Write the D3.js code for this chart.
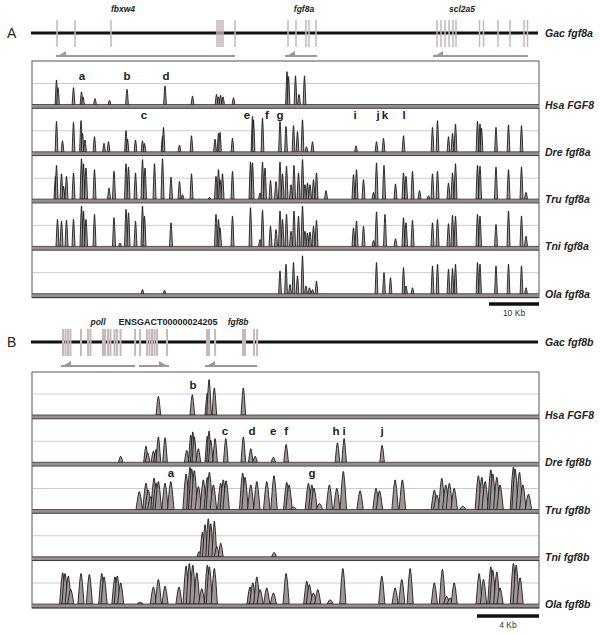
<!DOCTYPE html>
<html><head><meta charset="utf-8">
<script src="https://cdn.jsdelivr.net/npm/d3@7"></script>
<style>body{margin:0;background:#fff}</style>
</head><body><svg id="c" width="600" height="634"></svg>
<script>
// ---------------- DATA ----------------
// Panel A (positions in kb along Gac fgf8a region; heights in % identity)
const refA = "Gac fgf8a";
const tracksA = ["Hsa FGF8","Dre fgf8a","Tru fgf8a","Tni fgf8a","Ola fgf8a"];
const exonsA = [5.0,8.6,15.8,37.0,37.4,37.8,38.2,40.6,51.2,52.8,54.8,55.4,56.8,81.0,81.8,82.6,83.4,84.2,84.8,89.5,90.3,93.2,95.6,98.4,99.1];
const geneNamesA = ["fbxw4","fgf8a","scl2a5"];
const geneNamePosA = [18.2,54.4,86.0];
const geneArrowsA = [[40.6,4.8],[57.0,50.6],[99.2,80.2]]; // [from,to] arrow points toward 'to'
const hsaA = [[4.9,79],[5.2,70],[8.3,70],[9.9,65],[10.2,59],[12.6,57],[15.5,55],[19.0,68],[26.6,72],[32.1,60],[36.9,62],[37.3,59],[37.7,61],[38.2,59],[40.3,58],[51.0,89],[51.3,83],[52.7,84],[53.4,62],[54.5,84]];
const dreA = [[4.9,86],[6.1,63],[8.3,85],[9.8,87],[10.1,72],[10.6,64],[12.5,68],[14.4,60],[15.3,62],[18.8,75],[19.1,65],[20.7,64],[22.1,63],[22.5,60],[26.1,68],[26.3,79],[29.5,58],[31.9,69],[36.6,65],[37.3,72],[37.6,73],[40.1,66],[44.1,92],[44.3,88],[46.1,90],[49.6,86],[50.8,80],[52.3,81],[53.1,74],[54.1,88],[54.9,56],[56.1,62],[64.8,57],[68.9,62],[70.3,66],[74.3,69],[80.1,79],[81.1,87],[83.3,68],[84.1,72],[84.7,83],[89.1,86],[89.6,83],[89.9,78],[92.8,79],[95.3,82],[97.9,81]];
const truA = [[4.7,77],[4.9,90],[5.9,80],[6.3,65],[6.9,77],[8.3,81],[9.9,98],[10.3,92],[10.8,87],[12.5,85],[15.4,63],[16.4,83],[18.8,92],[19.3,88],[20.7,81],[22.1,97],[22.6,87],[24.5,92],[26.1,98],[27.8,76],[29.5,71],[30.1,55],[31.9,80],[35.5,52],[36.8,77],[37.3,85],[37.6,73],[38.1,80],[40.1,83],[43.7,94],[44.1,93],[45.6,57],[46.1,94],[46.6,87],[47.7,72],[48.8,71],[49.6,94],[50.1,80],[50.9,89],[51.8,67],[52.4,90],[53.3,81],[54.1,97],[54.6,67],[55.1,69],[55.6,67],[56.3,73],[56.9,81],[58.8,60],[64.3,79],[64.9,85],[66.3,73],[68.3,58],[68.9,93],[70.4,90],[72.7,68],[74.3,81],[74.8,77],[76.1,83],[77.5,60],[79.3,54],[80.1,80],[81.1,83],[83.3,69],[84.1,81],[84.7,92],[89.1,90],[89.6,89],[92.8,88],[95.3,85],[97.9,88],[98.8,58]];
const tniA = [[5.1,82],[5.9,80],[6.9,81],[8.3,82],[9.9,98],[10.3,92],[10.8,82],[12.5,88],[16.4,84],[17.6,54],[18.8,94],[19.3,90],[20.7,80],[22.1,98],[22.5,86],[27.8,78],[36.8,88],[37.3,82],[37.6,72],[40.1,86],[43.7,96],[45.6,58],[46.1,93],[47.7,74],[48.8,70],[49.6,92],[50.1,82],[50.9,88],[51.8,68],[52.4,92],[53.3,86],[54.1,98],[54.6,68],[55.1,66],[55.6,67],[56.3,74],[56.9,81],[64.3,72],[64.9,80],[66.3,74],[68.3,57],[68.9,91],[70.6,88],[72.7,59],[74.3,84],[74.8,78],[76.1,81],[80.1,78],[81.1,82],[83.3,77],[84.1,87],[84.7,86],[89.1,88],[89.6,86],[92.8,76],[95.3,92],[97.9,86],[98.8,62]];
const olaA = [[22.1,55],[26.5,54],[49.6,77],[50.8,85],[51.6,61],[52.3,87],[53.1,71],[54.1,95],[54.8,59],[55.5,57],[56.1,55],[56.9,65],[68.9,87],[70.4,75],[71.7,69],[74.3,81],[74.8,59],[76.1,57],[80.1,83],[81.1,85],[83.3,79],[84.1,80],[84.7,85],[89.1,87],[89.6,85],[92.8,83],[95.3,85],[97.9,83],[98.8,57]];
const peakLabelsA = [["a",10.0,0,84],["b",19.0,0,84],["d",26.8,0,84],["c",22.4,1,94],["e",43.0,1,94],["f",47.0,1,94],["g",49.6,1,94],["i",64.6,1,94],["j",69.2,1,94],["k",70.6,1,94],["l",74.4,1,94]];
const scaleA = 10, scaleLabelA = "10 Kb";

// Panel B (positions in kb along Gac fgf8b region)
const refB = "Gac fgf8b";
const tracksB = ["Hsa FGF8","Dre fgf8b","Tru fgf8b","Tni fgf8b","Ola fgf8b"];
const exonsB = [2.00,2.16,2.32,2.48,3.16,3.61,3.77,4.58,4.71,4.90,5.06,5.32,5.48,5.71,6.65,6.97,7.42,7.58,7.74,7.90,8.06,8.71,11.29,11.42,11.81,13.61,13.74,14.32,14.52];
const geneNamesB = ["poll","ENSGACT00000024205","fgf8b"];
const geneNamePosB = [4.26,8.77,13.29];
const geneArrowsB = [[6.65,1.87],[6.90,8.84],[14.52,11.16]];
const hsaB = [[8.15,72],[10.34,74],[11.31,76],[11.42,92],[11.76,82],[13.63,82]];
const dreB = [[5.72,57],[7.35,69],[7.46,61],[7.83,63],[8.0,65],[8.15,80],[8.58,79],[9.98,64],[10.24,82],[10.37,86],[10.47,80],[10.73,66],[11.31,81],[11.42,87],[11.53,76],[11.81,78],[12.5,78],[13.63,80],[14.11,66],[14.39,57],[15.57,56],[16.39,71],[19.70,73],[20.13,78],[22.58,70]];
const truB = [[6.92,71],[7.35,81],[7.5,73],[7.66,65],[7.87,87],[8.0,81],[8.15,83],[8.58,81],[8.95,83],[9.94,92],[10.19,100],[10.30,98],[10.47,96],[10.73,77],[11.05,85],[11.31,88],[11.44,94],[11.70,79],[12.17,81],[12.34,85],[12.52,84],[13.59,93],[13.74,88],[14.11,79],[14.5,83],[15.14,83],[15.61,90],[16.43,82],[16.58,79],[16.86,53],[17.83,81],[18.05,79],[18.19,75],[18.54,57],[19.18,79],[19.66,75],[20.08,95],[21.16,72],[22.19,75],[22.41,72],[23.42,85],[23.89,85],[25.95,73],[26.11,67],[26.43,87],[26.69,79],[26.92,81],[27.23,75],[27.79,54],[28.79,90],[29.01,88],[29.23,83],[29.59,97],[29.72,92],[29.98,88],[30.19,79],[31.05,100],[31.16,98],[31.44,94],[31.66,79],[32.02,68]];
const tniB = [[10.79,56],[10.99,79],[11.16,88],[11.37,95],[11.53,89],[11.76,92],[11.92,62],[12.17,66],[15.61,55]];
const olaB = [[1.98,87],[2.13,86],[2.34,83],[2.50,67],[3.16,86],[3.70,85],[4.50,86],[4.65,82],[5.35,82],[5.50,83],[5.72,75],[6.97,52],[7.83,70],[8.15,79],[8.58,71],[9.48,70],[9.94,95],[10.15,98],[10.37,96],[10.63,87],[10.95,68],[11.31,96],[11.44,94],[11.76,92],[14.06,70],[14.24,75],[14.5,82],[14.71,67],[15.14,69],[15.57,63],[16.39,86],[17.72,77],[17.89,73],[18.15,63],[18.43,67],[19.23,55],[20.05,92],[22.56,83],[23.42,69],[23.85,79],[24.39,92],[25.95,75],[26.47,91],[26.75,59],[26.97,57],[27.23,75],[28.84,86],[29.12,79],[29.59,94],[29.72,90],[29.98,88],[30.19,69],[31.05,98],[31.23,96],[31.48,81]];
const peakLabelsB = [["b",10.39,0,86],["c",12.45,1,87],["d",14.19,1,87],["e",15.55,1,87],["f",16.39,1,87],["h",19.61,1,87],["i",20.13,1,87],["j",22.58,1,87],["a",8.97,2,94],["g",18.06,2,94]];
const scaleB = 4, scaleLabelB = "4 Kb";

// ---------------- DRAW ----------------
const svg = d3.select("#c");
const L = 32, R = 539;
const FONT = "'Liberation Sans', Arial, sans-serif";

function drawPanel(c){
  const x = d3.scaleLinear().domain(c.domain).range([L, R]);
  svg.append("text").attr("x", 7).attr("y", c.geneY + 5).attr("font-family", FONT)
    .attr("font-size", 14).attr("fill", "#222").text(c.letter);
  svg.append("line").attr("x1", L - 1).attr("x2", R - 1).attr("y1", c.geneY).attr("y2", c.geneY)
    .attr("stroke", "#111").attr("stroke-width", 3);
  svg.append("g").selectAll("rect").data(c.exons).enter().append("rect")
    .attr("x", d => x(d) - c.exonW / 2).attr("width", c.exonW).attr("y", c.geneY - 13).attr("height", 27)
    .attr("fill", "#c6b8b8");
  svg.append("g").selectAll("text").data(c.geneNames).enter().append("text")
    .attr("x", (d, i) => x(c.geneNamePos[i])).attr("y", c.nameY)
    .attr("text-anchor", "middle").attr("font-family", FONT).attr("font-weight", "bold")
    .attr("font-style", d => d.startsWith("ENS") ? "normal" : "italic")
    .attr("font-size", d => d.startsWith("ENS") ? 9 : 8.5).attr("fill", "#222").text(d => d);
  const ay = c.geneY + c.arrowOff;
  c.arrows.forEach(a => {
    svg.append("line").attr("x1", x(a[0])).attr("x2", x(a[1])).attr("y1", ay).attr("y2", ay)
      .attr("stroke", "#9a9a9a").attr("stroke-width", 2);
    const dir = a[1] > a[0] ? 1 : -1, tx = x(a[1]);
    svg.append("path").attr("d", `M${tx},${ay + 1}L${tx - dir * 10},${ay - 5}L${tx - dir * 10},${ay + 1}Z`)
      .attr("fill", "#9a9a9a");
  });
  svg.append("text").attr("x", 545).attr("y", c.geneY + 4).attr("font-family", FONT)
    .attr("font-weight", "bold").attr("font-style", "italic").attr("font-size", 10.5)
    .attr("fill", "#222").text(c.ref);

  const n = c.tracks.length;
  const baseOf = i => c.base0 + i * c.spacing;
  const bottom = baseOf(n - 1) + 4;
  svg.append("rect").attr("x", L).attr("y", c.top).attr("width", R - L).attr("height", bottom - c.top)
    .attr("fill", "#fff").attr("stroke", "#555").attr("stroke-width", 1);

  c.tracks.forEach((name, i) => {
    const b = baseOf(i);
    const y = d3.scaleLinear().domain([50, 100]).range([b, b - 42]);
    svg.append("line").attr("x1", L + 1).attr("x2", R - 1).attr("y1", y(75)).attr("y2", y(75))
      .attr("stroke", "#cfc9c9").attr("stroke-width", 1);
    const w = c.widths[i];
    const line = d3.line().x(d => x(d[0])).y(d => y(d[1]));
    svg.append("g").selectAll("path").data(c.peaks[i]).enter().append("path")
      .attr("d", d => {
        const p = d[0], h = d[1], m = 50 + (h - 50) * 0.72;
        return line([[p - w / 2, 50], [p - w * 0.22, m], [p - w * 0.05, h], [p + w * 0.05, h], [p + w * 0.22, m], [p + w / 2, 50]]) + "Z";
      })
      .attr("fill", "#a09696").attr("stroke", "#151515").attr("stroke-width", 0.85)
      .attr("stroke-linejoin", "round");
    svg.append("rect").attr("x", L).attr("y", b).attr("width", R - L).attr("height", 3.5)
      .attr("fill", "#978d8d");
    svg.append("line").attr("x1", L).attr("x2", R).attr("y1", b).attr("y2", b)
      .attr("stroke", "#3a3535").attr("stroke-width", 0.8);
    svg.append("line").attr("x1", L).attr("x2", R).attr("y1", b + 3.8).attr("y2", b + 3.8)
      .attr("stroke", "#3a3535").attr("stroke-width", 1);
    svg.append("text").attr("x", 545).attr("y", b + 4).attr("font-family", FONT)
      .attr("font-weight", "bold").attr("font-style", "italic").attr("font-size", 10.5)
      .attr("fill", "#222").text(name);
  });
  c.labels.forEach(l => {
    const b = baseOf(l[2]);
    const y = d3.scaleLinear().domain([50, 100]).range([b, b - 42]);
    svg.append("text").attr("x", x(l[1])).attr("y", y(l[3]) + 4).attr("text-anchor", "middle")
      .attr("font-family", FONT).attr("font-weight", "bold").attr("font-size", 11.5)
      .attr("fill", "#222").text(l[0]);
  });
  const len = x(c.domain[0] + c.scale) - x(c.domain[0]);
  svg.append("line").attr("x1", R - len).attr("x2", R).attr("y1", c.scaleY).attr("y2", c.scaleY)
    .attr("stroke", "#111").attr("stroke-width", 3.5);
  svg.append("text").attr("x", R - len / 2).attr("y", c.scaleY + 12).attr("text-anchor", "middle")
    .attr("font-family", FONT).attr("font-size", 8.5).attr("fill", "#333").text(c.scaleLabel);
}

drawPanel({letter: "A", domain: [0, 101.4], geneY: 33, nameY: 12, arrowOff: 23, ref: refA, exonW: 1.5,
  exons: exonsA, geneNames: geneNamesA, geneNamePos: geneNamePosA, arrows: geneArrowsA,
  tracks: tracksA, peaks: [hsaA, dreA, truA, tniA, olaA], widths: [0.55, 0.55, 0.6, 0.6, 0.55],
  top: 61, base0: 104.5, spacing: 47.3, labels: peakLabelsA, scale: scaleA, scaleLabel: scaleLabelA, scaleY: 304});

drawPanel({letter: "B", domain: [0, 32.7], geneY: 342, nameY: 325, arrowOff: 24, ref: refB, exonW: 2,
  exons: exonsB, geneNames: geneNamesB, geneNamePos: geneNamePosB, arrows: geneArrowsB,
  tracks: tracksB, peaks: [hsaB, dreB, truB, tniB, olaB], widths: [0.3, 0.3, 0.42, 0.32, 0.4],
  top: 372, base0: 415, spacing: 47.25, labels: peakLabelsB, scale: scaleB, scaleLabel: scaleLabelB, scaleY: 616});
</script>
</body></html>
